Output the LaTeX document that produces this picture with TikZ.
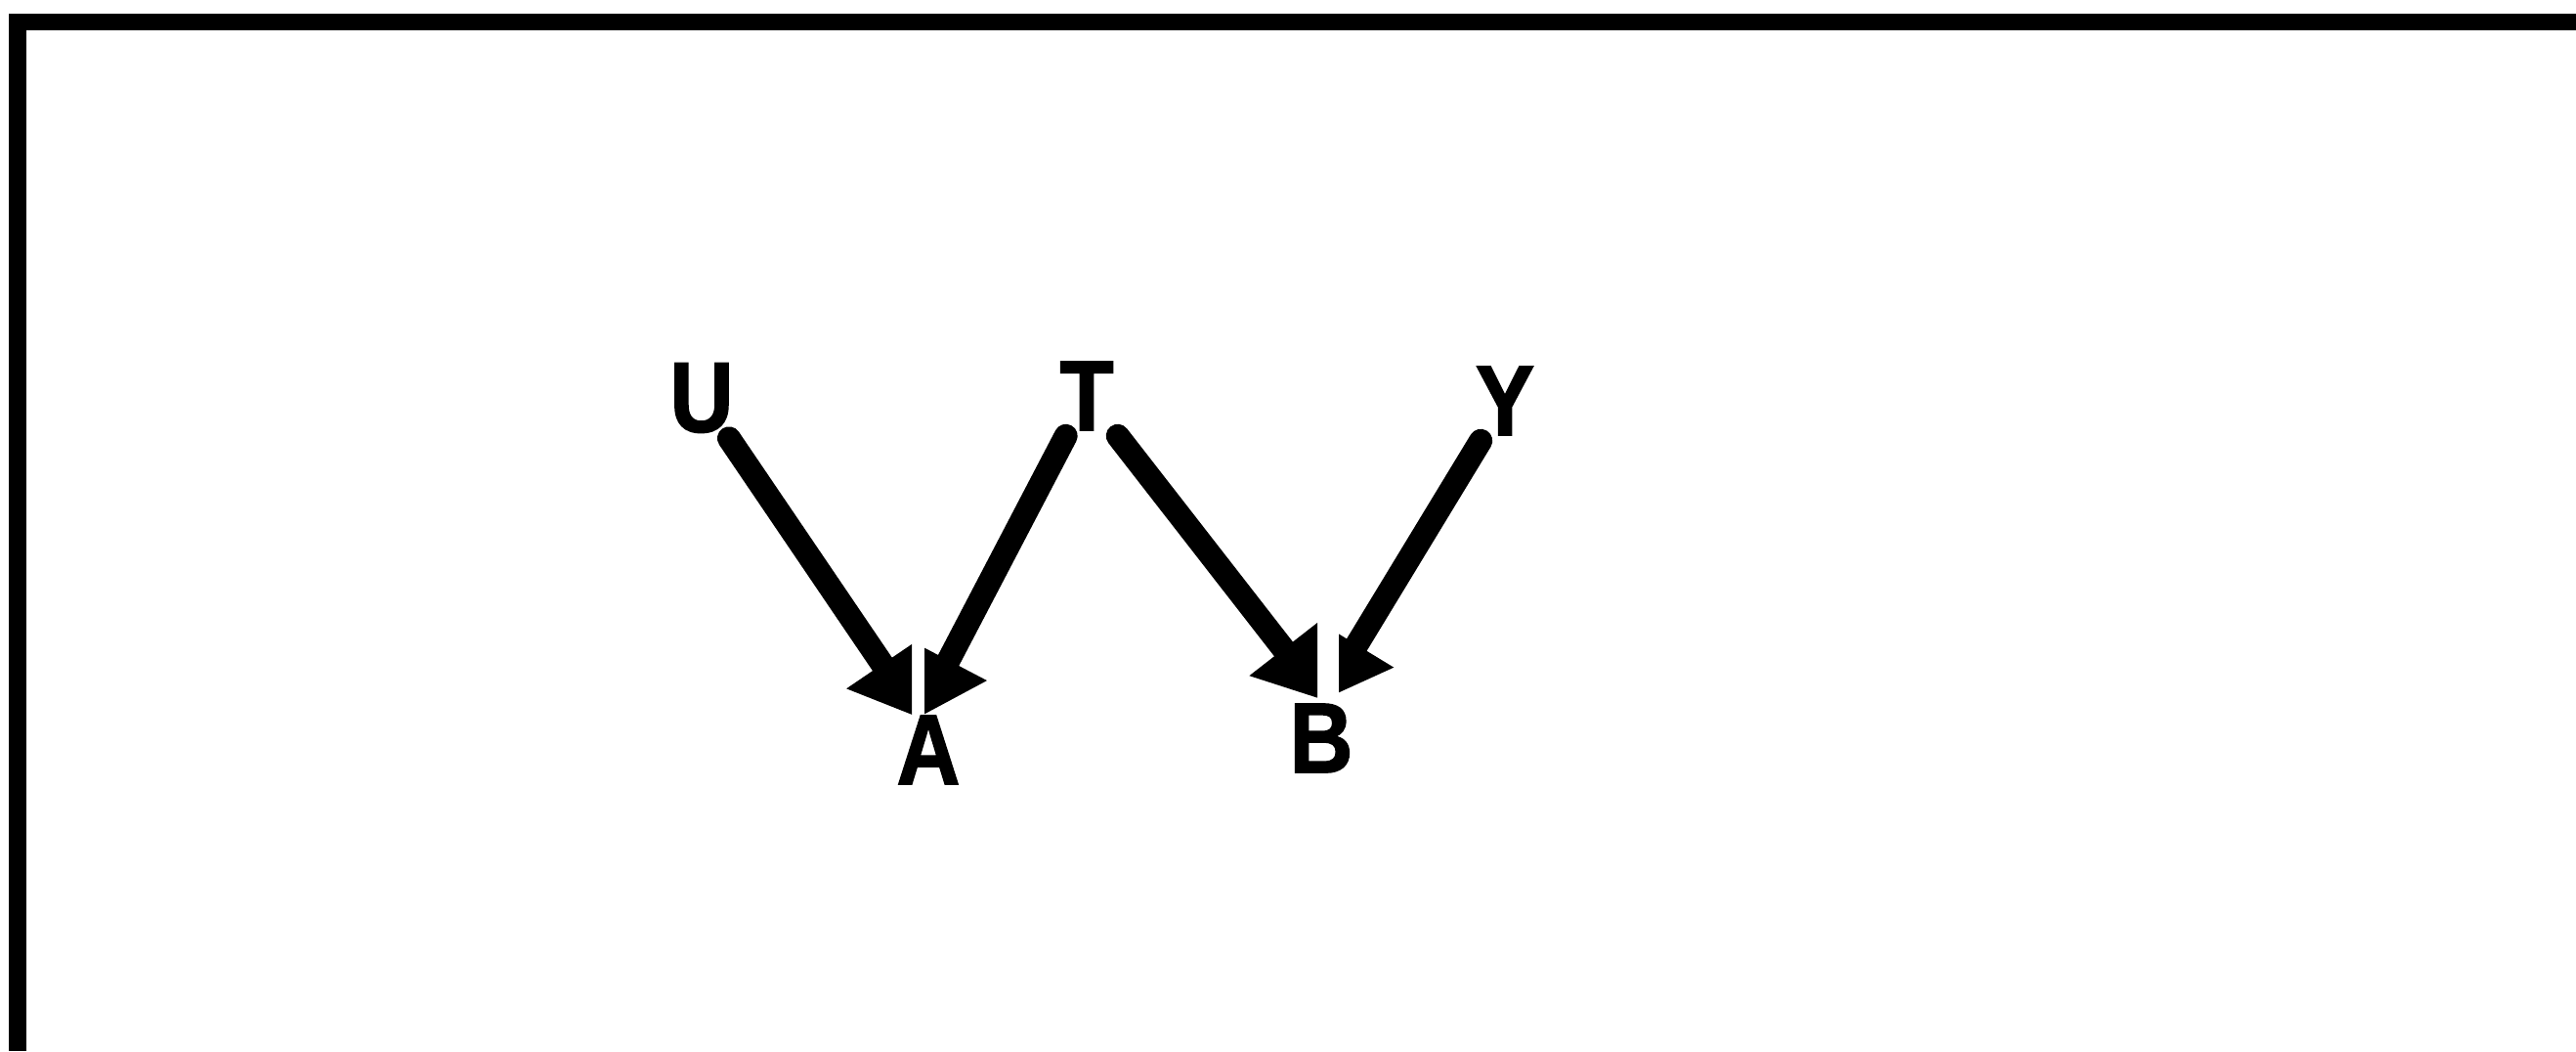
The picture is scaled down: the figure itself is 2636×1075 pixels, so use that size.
\documentclass[tikz,border=0pt]{standalone}
\usepackage{fontspec}
\newfontfamily\lblfont{Liberation Sans Bold}[FakeStretch=0.88,FakeBold=1.6]
\usetikzlibrary{arrows.meta}
\begin{document}
\begin{tikzpicture}[x=0.01cm,y=-0.01cm,
  lbl/.style={inner sep=0.05cm, font=\fontsize{29pt}{30pt}\lblfont},
  arr/.style={line width=0.24cm, line cap=round, -{Triangle[length=0.66cm,width=0.84cm]}},
  frame/.style={line width=0.17cm, line join=miter}]
\useasboundingbox (0,0) rectangle (2636,1075);
\draw[frame] (18,1075) -- (18,22.5) -- (2636,22.5);
% nodes
\node[lbl] (U) at (718,407) {U};
\node[lbl] (T) at (1112,405) {T};
\node[lbl] (Y) at (1540,410) {Y};
\node[lbl] (A) at (950,767) {A};
\node[lbl] (B) at (1352,755) {B};
\coordinate (ta) at (940,734);
\coordinate (tb) at (1354,716);
% arrows into A
\begin{scope}
  \clip (0,0) rectangle (933,1075);
  \draw[arr] (U) -- (ta);
\end{scope}
\begin{scope}
  \clip (946,0) rectangle (2636,1075);
  \draw[arr] (T) -- (ta);
\end{scope}
% arrows into B
\begin{scope}
  \clip (0,0) rectangle (1348,1075);
  \draw[arr] (T) -- (tb);
\end{scope}
\begin{scope}
  \clip (1370,0) rectangle (2636,1075);
  \draw[arr] (Y) -- (tb);
\end{scope}
\end{tikzpicture}
\end{document}
